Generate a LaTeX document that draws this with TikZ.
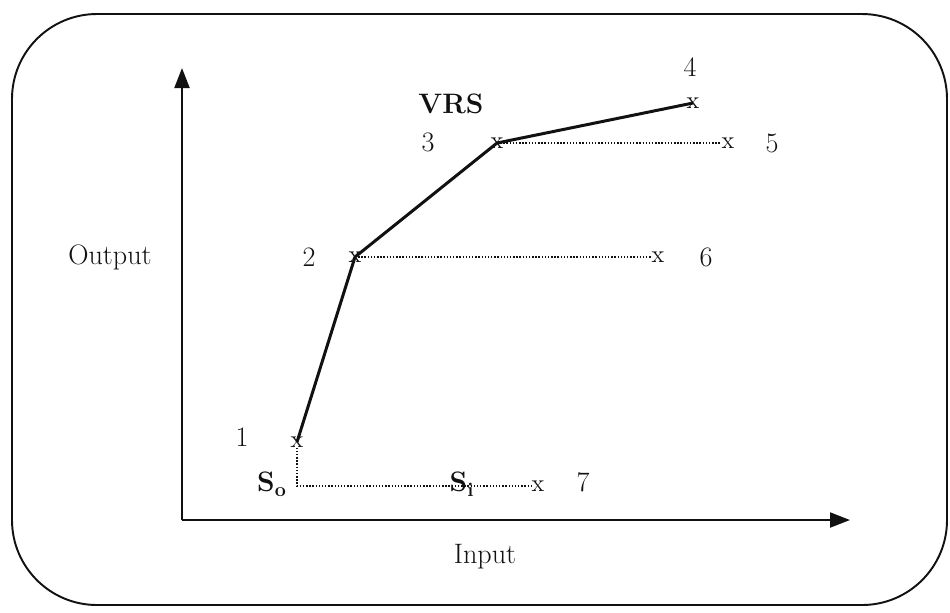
\documentclass[tikz,border=0pt]{standalone}
\usepackage{xcolor}
\usepackage{tikz}
\usetikzlibrary{positioning, arrows.meta}
\definecolor{ink}{HTML}{111111}

\begin{document}
\begin{tikzpicture}[x=0.2mm, y=-0.2mm, ink,
    lbl/.style={font=\fontsize{16}{18}\selectfont, inner sep=1pt},
    xmark/.style={font=\fontsize{14}{16}\selectfont, inner sep=0pt},
    frontier/.style={line width=1.7pt, line join=round},
    slack/.style={densely dotted, line width=0.8pt}]
  \useasboundingbox (0,0) rectangle (950,612);
  % frame
  \draw[line width=1.1pt, rounded corners=1.7cm] (12,14) rectangle (947,605);
  % axes
  \coordinate (origin) at (182,520);
  \coordinate (ytip) at (182,68);
  \coordinate (xtip) at (850,520);
  \draw[line width=1.2pt, -{Triangle[length=4mm, width=3mm]}] (origin) -- (ytip);
  \draw[line width=1.2pt, -{Triangle[length=4mm, width=3mm]}] (origin) -- (xtip);
  \node[lbl] (output) at (110,257) {Output};
  \node[lbl] (input) at (485,557) {Input};
  % points
  \node[xmark] (p1) at (297,442) {x};
  \node[xmark] (p2) at (355,257) {x};
  \node[xmark] (p3) at (497,143) {x};
  \node[xmark] (p4) at (693,103) {x};
  \node[xmark] (p5) at (728,143) {x};
  \node[xmark] (p6) at (658,257) {x};
  \node[xmark] (p7) at (538,486) {x};
  \coordinate (s0) at (297,486);
  % frontier
  \draw[frontier] (p1.center) -- (p2.center) -- (p3.center) -- (p4.center);
  \draw[slack] (p3.center) -- (p5.west);
  \draw[slack] (p2.center) -- (p6.west);
  \draw[slack] (p1.south) -- (s0) -- (p7.west);
  % labels
  \node[lbl] (n1) at (242,437) {1};
  \node[lbl] (n2) at (309,257) {2};
  \node[lbl] (n3) at (428,142) {3};
  \node[lbl] (n4) at (690,67) {4};
  \node[lbl] (n5) at (772,143) {5};
  \node[lbl] (n6) at (706,257) {6};
  \node[lbl] (n7) at (583,482) {7};
  \node[lbl, font=\fontsize{16}{18}\selectfont\bfseries] (vrs) at (451,104) {VRS};
  \node[lbl, font=\fontsize{16}{18}\selectfont\bfseries] (so) at (272,484) {S\textsubscript{o}};
  \node[lbl, font=\fontsize{16}{18}\selectfont\bfseries] (si) at (462,484) {S\textsubscript{i}};
\end{tikzpicture}
\end{document}
